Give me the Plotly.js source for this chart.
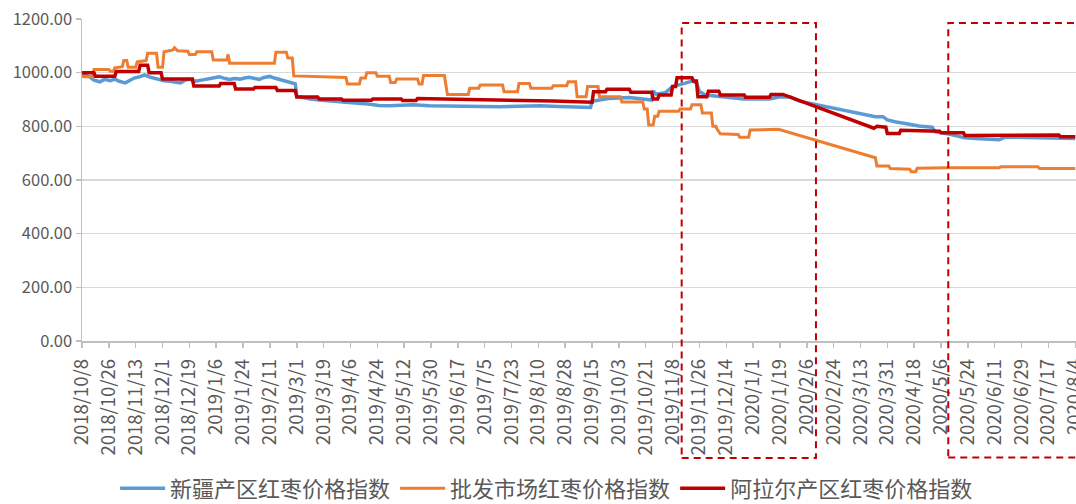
<!DOCTYPE html>
<html>
<head>
<meta charset="utf-8">
<script src="https://cdn.plot.ly/plotly-3.0.1.min.js"></script>
<style>
html,body{margin:0;padding:0;background:#fff;}
#chart{width:1076px;height:504px;}
</style>
</head>
<body>
<div id="chart"></div>
<script>
// ---- Data ----
var seriesNames = ['新疆产区红枣价格指数', '批发市场红枣价格指数', '阿拉尔产区红枣价格指数'];

var xinjiangDates = ['2018-10-08','2018-10-13','2018-10-16','2018-10-20','2018-10-23','2018-10-27','2018-10-30','2018-11-02','2018-11-06','2018-11-09','2018-11-12','2018-11-16','2018-11-19','2018-11-22','2018-11-26','2018-11-29','2018-12-02','2018-12-06','2018-12-09','2018-12-13','2018-12-16','2018-12-19','2018-12-23','2018-12-26','2018-12-29','2019-01-02','2019-01-05','2019-01-08','2019-01-12','2019-01-15','2019-01-18','2019-01-22','2019-01-25','2019-01-28','2019-02-01','2019-02-04','2019-02-07','2019-02-11','2019-02-14','2019-02-18','2019-02-21','2019-02-24','2019-02-28','2019-03-01','2019-03-06','2019-03-10','2019-03-16','2019-03-23','2019-03-30','2019-04-05','2019-04-11','2019-04-18','2019-04-25','2019-05-02','2019-05-09','2019-05-18','2019-05-29','2019-06-12','2019-06-25','2019-07-15','2019-07-28','2019-08-11','2019-08-24','2019-09-07','2019-09-14','2019-09-15','2019-09-26','2019-10-10','2019-10-20','2019-10-25','2019-10-26','2019-10-28','2019-11-03','2019-11-08','2019-11-16','2019-11-21','2019-11-24','2019-11-26','2019-11-30','2019-12-10','2019-12-26','2020-01-12','2020-01-19','2020-01-26','2020-02-01','2020-03-23','2020-03-28','2020-03-31','2020-04-05','2020-04-14','2020-04-21','2020-04-30','2020-05-02','2020-05-12','2020-05-22','2020-05-29','2020-06-08','2020-06-14','2020-06-18','2020-07-04','2020-08-04'];
var xinjiangValues = [995,985,972,966,975,970,976,968,962,970,980,985,992,984,978,975,970,968,965,962,972,976,968,970,974,978,982,985,978,975,978,976,980,983,978,975,982,986,980,974,968,963,958,912,905,902,898,894,891,888,886,883,878,877,878,880,877,875,876,873,875,877,874,872,870,893,904,907,902,898,932,920,925,948,960,969,962,930,917,910,902,902,910,909,894,836,836,824,817,809,801,797,780,770,757,755,752,750,760,758,755];

var wholesaleDates = ['2018-10-08','2018-10-09','2018-10-15','2018-10-16','2018-10-26','2018-10-27','2018-10-29','2018-10-30','2018-11-04','2018-11-05','2018-11-07','2018-11-08','2018-11-13','2018-11-14','2018-11-20','2018-11-21','2018-11-27','2018-11-28','2018-12-01','2018-12-02','2018-12-08','2018-12-09','2018-12-11','2018-12-18','2018-12-19','2018-12-23','2018-12-24','2019-01-03','2019-01-04','2019-01-13','2019-01-14','2019-01-15','2019-02-14','2019-02-15','2019-02-22','2019-02-23','2019-02-26','2019-02-27','2019-04-03','2019-04-04','2019-04-12','2019-04-13','2019-04-16','2019-04-17','2019-04-23','2019-04-24','2019-05-02','2019-05-03','2019-05-06','2019-05-07','2019-05-21','2019-05-22','2019-05-24','2019-05-25','2019-06-08','2019-06-10','2019-06-24','2019-06-25','2019-07-01','2019-07-02','2019-07-17','2019-07-18','2019-07-27','2019-07-28','2019-08-04','2019-08-05','2019-08-19','2019-08-20','2019-08-29','2019-08-30','2019-09-04','2019-09-05','2019-09-11','2019-09-12','2019-09-19','2019-09-20','2019-10-04','2019-10-05','2019-10-19','2019-10-20','2019-10-22','2019-10-23','2019-10-26','2019-10-27','2019-10-29','2019-10-30','2019-11-12','2019-11-13','2019-11-20','2019-11-21','2019-11-27','2019-11-28','2019-12-04','2019-12-05','2019-12-07','2019-12-08','2019-12-10','2019-12-22','2019-12-23','2019-12-29','2019-12-30','2020-01-18','2020-03-23','2020-03-24','2020-04-01','2020-04-02','2020-04-15','2020-04-16','2020-04-19','2020-04-20','2020-05-10','2020-06-14','2020-06-15','2020-07-10','2020-07-11','2020-08-04'];
var wholesaleValues = [997,985,985,1012,1012,1005,1005,1018,1022,1045,1045,1020,1020,1040,1045,1072,1072,1020,1020,1078,1085,1093,1082,1080,1068,1068,1078,1078,1047,1047,1068,1035,1035,1076,1076,1055,1055,988,982,958,958,980,980,1000,1000,987,987,963,963,976,976,958,958,989,989,919,919,942,942,954,954,929,929,960,960,942,942,951,951,966,966,910,910,948,948,910,910,891,891,865,865,805,805,838,838,856,856,865,865,880,880,850,850,800,800,788,772,770,759,759,786,789,683,652,652,643,640,631,631,644,646,646,649,649,643,643];

var alaerDates = ['2018-10-08','2018-10-16','2018-10-17','2018-10-30','2018-10-31','2018-11-15','2018-11-16','2018-11-21','2018-11-22','2018-11-30','2018-12-01','2018-12-21','2018-12-22','2019-01-08','2019-01-09','2019-01-18','2019-01-19','2019-01-31','2019-02-01','2019-02-15','2019-02-16','2019-02-28','2019-03-01','2019-03-15','2019-03-16','2019-03-31','2019-04-01','2019-04-20','2019-04-21','2019-05-10','2019-05-11','2019-05-20','2019-05-21','2019-06-15','2019-07-20','2019-08-20','2019-09-15','2019-09-16','2019-09-24','2019-09-25','2019-10-10','2019-10-11','2019-10-25','2019-10-26','2019-10-29','2019-10-30','2019-11-07','2019-11-08','2019-11-10','2019-11-11','2019-11-21','2019-11-22','2019-11-24','2019-11-25','2019-12-01','2019-12-02','2019-12-09','2019-12-10','2019-12-26','2019-12-27','2020-01-12','2020-01-13','2020-01-21','2020-03-22','2020-03-24','2020-03-30','2020-03-31','2020-04-08','2020-04-09','2020-04-16','2020-04-17','2020-05-05','2020-05-06','2020-05-21','2020-05-22','2020-06-14','2020-06-15','2020-07-24','2020-07-25','2020-08-04'];
var alaerValues = [1000,1000,987,987,1004,1004,1028,1028,1000,1000,976,976,950,950,960,960,939,939,945,945,934,934,909,909,902,902,897,897,902,902,896,896,904,902,898,894,890,929,929,938,938,927,927,902,902,917,917,948,948,981,981,969,969,910,910,931,931,917,917,908,908,919,919,793,800,797,773,773,785,785,782,782,776,776,766,766,768,768,761,761];

var yTickValues = [0, 200, 400, 600, 800, 1000, 1200];

// ---- Chart ----
var colors = ['#5B9BD5', '#ED7D31', '#C00000'];
var traces = [
  {x: xinjiangDates, y: xinjiangValues, name: seriesNames[0], type: 'scatter', mode: 'lines',
   line: {color: colors[0], width: 3.5}},
  {x: wholesaleDates, y: wholesaleValues, name: seriesNames[1], type: 'scatter', mode: 'lines',
   line: {color: colors[1], width: 3}},
  {x: alaerDates, y: alaerValues, name: seriesNames[2], type: 'scatter', mode: 'lines',
   line: {color: colors[2], width: 3.5}}
];

var fam = '"Noto Sans CJK SC", "Noto Sans", sans-serif';
var boxLine = {color: '#C00000', width: 2, dash: '7px,5px'};

var layout = {
  width: 1076, height: 504,
  margin: {l: 82, r: 0, t: 19, b: 163, autoexpand: false},
  paper_bgcolor: '#ffffff', plot_bgcolor: '#ffffff',
  showlegend: true,
  legend: {
    orientation: 'h', xref: 'container', yref: 'container',
    x: 0.508, xanchor: 'center', y: 0.031, yanchor: 'middle',
    font: {family: fam, size: 22, color: '#595959'},
    itemwidth: 45, tracegroupgap: 0, bgcolor: 'rgba(0,0,0,0)'
  },
  xaxis: {
    type: 'date',
    range: ['2018-10-08', '2020-08-04 12:00'],
    tick0: '2018-10-08', dtick: 18 * 86400000,
    tickformat: '%Y/%-m/%-d', tickangle: -90,
    ticklabeloverflow: 'allow', ticklabelstandoff: 4,
    automargin: false,
    showgrid: false, zeroline: false,
    showline: true, linecolor: '#bfbfbf', linewidth: 1.5,
    ticks: 'outside', ticklen: 5, tickcolor: '#bfbfbf', tickwidth: 1.5,
    tickfont: {family: fam, size: 18.5, color: '#595959'}
  },
  yaxis: {
    range: [0, 1200], tickvals: yTickValues, tickformat: '.2f',
    automargin: false,
    showgrid: true, gridcolor: '#d9d9d9', gridwidth: 1.5,
    zeroline: false,
    showline: true, linecolor: '#bfbfbf', linewidth: 1.5,
    ticks: 'outside', ticklen: 5, tickcolor: '#bfbfbf', tickwidth: 1.5,
    tickfont: {family: fam, size: 16.5, color: '#595959'}
  },
  shapes: [
    {type: 'rect', xref: 'paper', yref: 'paper', x0: 0.6033, x1: 0.7384, y0: -0.363, y1: 0.9876,
     line: boxLine, fillcolor: 'rgba(0,0,0,0)', layer: 'above'},
    {type: 'rect', xref: 'paper', yref: 'paper', x0: 0.8715, x1: 1.03, y0: -0.362, y1: 0.9876,
     line: boxLine, fillcolor: 'rgba(0,0,0,0)', layer: 'above'}
  ]
};

Plotly.newPlot('chart', traces, layout, {displayModeBar: false, staticPlot: true});
</script>
</body>
</html>
